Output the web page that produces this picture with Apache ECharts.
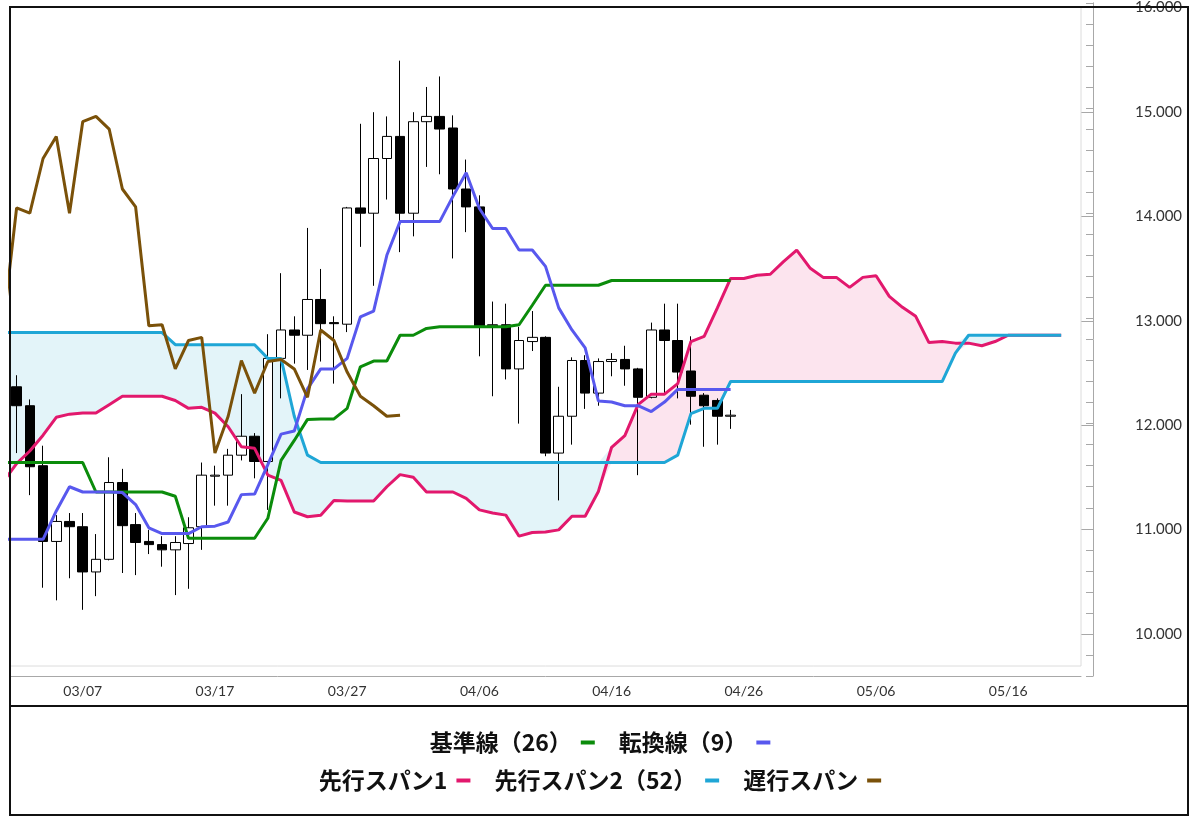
<!DOCTYPE html>
<html>
<head>
<meta charset="utf-8">
<script src="https://cdn.jsdelivr.net/npm/echarts@6/dist/echarts.min.js"></script>
<style>
html,body{margin:0;padding:0;background:#fff;}
#chart{width:1200px;height:829px;}
</style>
</head>
<body>
<div id="chart"></div>
<script>
// ---- categories: daily dates 03/01 .. 05/21 (03/01 lies just left of the visible area)
const monthSpans = [[3, 31], [4, 30], [5, 21]];
const categories = [];
monthSpans.forEach(function (ms) {
  for (let d = 1; d <= ms[1]; d++) {
    categories.push(String(ms[0]).padStart(2, '0') + '/' + String(d).padStart(2, '0'));
  }
});
const tickLabels = ['03/07', '03/17', '03/27', '04/06', '04/16', '04/26', '05/06', '05/16'];

// ---- candles 03/02 .. 04/25
const candleOpen  = [12.35,12.17,11.60,10.88,11.07,11.02,10.59,10.71,11.44,11.04,10.88,10.85,10.80,10.86,11.02,11.50,11.51,11.70,11.88,11.64,12.62,12.89,12.84,13.18,12.96,12.945,14.05,14.00,14.52,14.73,14.00,14.87,14.92,14.81,14.23,14.06,12.93,12.94,12.52,12.78,12.82,11.72,12.07,12.60,12.29,12.59,12.61,12.52,12.25,12.89,12.79,12.50,12.27,12.22,12.07];
const candleClose = [12.17,11.59,10.88,11.07,11.02,10.59,10.71,11.44,11.03,10.87,10.85,10.80,10.87,11.01,11.51,11.51,11.70,11.88,11.64,12.62,12.89,12.84,13.18,12.95,12.95,14.05,14.00,14.52,14.73,14.00,14.87,14.92,14.80,14.23,14.06,12.93,12.94,12.52,12.79,12.82,11.72,12.07,12.60,12.29,12.59,12.61,12.52,12.25,12.89,12.79,12.49,12.26,12.17,12.07,12.08];
const candleLow   = [11.72,11.32,10.44,10.32,10.53,10.23,10.36,10.70,10.58,10.56,10.76,10.64,10.37,10.43,10.80,11.22,11.22,11.65,11.48,11.18,12.24,12.57,12.51,12.59,12.38,12.87,13.68,13.31,14.13,13.63,13.78,14.44,14.37,13.57,13.82,12.64,12.26,12.42,12.00,12.69,11.69,11.27,11.80,12.14,12.17,12.45,12.36,11.51,12.24,12.29,12.24,11.99,11.78,11.80,11.95];
const candleHigh  = [12.46,12.23,11.79,11.13,11.15,11.15,10.95,11.68,11.57,11.15,10.99,10.93,10.93,11.11,11.63,11.60,11.76,12.28,11.91,12.85,13.43,13.02,13.86,13.47,13.02,14.06,14.85,14.96,14.92,15.45,14.96,15.20,15.30,14.93,14.51,14.17,13.16,13.14,12.92,13.07,12.83,12.35,12.63,12.65,12.62,12.67,12.74,12.53,12.96,13.14,13.14,12.83,12.29,12.24,12.13];

// ---- ichimoku lines (start at 03/01)
const kijun = [11.63,11.63,11.63,11.63,11.63,11.63,11.63,11.35,11.35,11.35,11.35,11.35,11.35,11.31,10.91,10.91,10.91,10.91,10.91,10.91,11.10,11.65,11.84,12.04,12.045,12.045,12.145,12.54,12.595,12.595,12.84,12.84,12.905,12.92,12.92,12.92,12.92,12.92,12.92,12.94,13.125,13.315,13.315,13.315,13.315,13.315,13.36,13.36,13.36,13.36,13.36,13.36,13.36,13.36,13.36,13.36];
const tenkan = [10.90,10.90,10.90,10.90,11.17,11.40,11.35,11.35,11.35,11.345,11.23,11.01,10.955,10.955,10.955,11.02,11.025,11.065,11.325,11.33,11.61,11.90,11.93,12.33,12.52,12.52,12.62,13.015,13.07,13.60,13.92,13.92,13.92,13.92,14.16,14.385,14.045,13.855,13.855,13.65,13.65,13.495,13.10,12.89,12.72,12.215,12.205,12.17,12.17,12.115,12.205,12.325,12.325,12.325,12.325,12.325];
const senkou1 = [11.45,11.62,11.74,11.89,12.06,12.09,12.10,12.10,12.18,12.26,12.26,12.26,12.26,12.22,12.145,12.155,12.10,11.97,11.78,11.765,11.51,11.46,11.16,11.115,11.13,11.27,11.265,11.265,11.265,11.40,11.515,11.49,11.35,11.35,11.35,11.29,11.18,11.15,11.13,10.93,10.965,10.97,10.99,11.12,11.12,11.355,11.775,11.885,12.18,12.28,12.28,12.38,12.78,12.83,13.10,13.38,13.38,13.41,13.42,13.54,13.65,13.48,13.39,13.39,13.295,13.39,13.405,13.21,13.105,13.02,12.77,12.78,12.765,12.765,12.74,12.78,12.84,12.84,12.84,12.84,12.84];
const senkou2 = [12.865,12.865,12.865,12.865,12.865,12.865,12.865,12.865,12.865,12.865,12.865,12.865,12.865,12.75,12.75,12.75,12.75,12.75,12.75,12.75,12.62,12.62,12.07,11.70,11.63,11.63,11.63,11.63,11.63,11.63,11.63,11.63,11.63,11.63,11.63,11.63,11.63,11.63,11.63,11.63,11.63,11.63,11.63,11.63,11.63,11.63,11.63,11.63,11.63,11.63,11.63,11.70,12.095,12.145,12.145,12.40,12.40,12.40,12.40,12.40,12.40,12.40,12.40,12.40,12.40,12.40,12.40,12.40,12.40,12.40,12.40,12.40,12.67,12.84,12.84,12.84,12.84,12.84,12.84,12.84,12.84];
const chikou = [12.95,14.05,14.00,14.52,14.73,14.00,14.87,14.92,14.80,14.23,14.06,12.93,12.94,12.52,12.79,12.82,11.72,12.07,12.60,12.29,12.59,12.61,12.52,12.25,12.89,12.79,12.49,12.26,12.17,12.07,12.08];

// ---- derived structures for the library
const candleData = ['-'].concat(candleOpen.map(function (o, i) {
  return [o, candleClose[i], candleLow[i], candleHigh[i]];
}));
const cloudBase = senkou1.map(function (v, i) { return Math.min(v, senkou2[i]); });
const cloudPink = senkou1.map(function (v, i) { return Math.max(v - senkou2[i], 0); });
const cloudBlue = senkou1.map(function (v, i) { return Math.max(senkou2[i] - v, 0); });

const COLORS = {
  kijun: '#0b8c0b', tenkan: '#5858ee', span1: '#e2186d', span2: '#1fa6d6', chikou: '#7a5109',
  pinkFill: '#fce4ee', blueFill: '#e3f4f9'
};
const axisGray = '#a8a8a8';
const labelFont = { color: '#333', fontFamily: 'Lato, "DejaVu Sans", sans-serif' };

function lineSeries(name, data, color, z) {
  return {
    type: 'line', name: name, data: data, xAxisIndex: 0, yAxisIndex: 0,
    symbol: 'none', showSymbol: false, z: z,
    lineStyle: { color: color, width: 3 }, itemStyle: { color: color },
    emphasis: { disabled: true }
  };
}
function cloudSeries(data, fill) {
  const s = {
    type: 'line', data: data, stack: 'cloud', xAxisIndex: 0, yAxisIndex: 0,
    symbol: 'none', showSymbol: false, silent: true, z: 1,
    lineStyle: { width: 0, opacity: 0 }, emphasis: { disabled: true }
  };
  if (fill) s.areaStyle = { color: fill, opacity: 1 };
  return s;
}

const legendText = { fontFamily: '"Noto Sans CJK JP", sans-serif', fontSize: 23, fontWeight: 'bold', color: '#111', padding: [0, 4, 0, 0] };

const option = {
  animation: false,
  backgroundColor: '#fff',
  grid: [
    { left: 10, top: 2.8, width: 1071, height: 673.3, containLabel: false },
    { left: 10, top: 2.8, width: 1071, height: 631.2, containLabel: false }
  ],
  xAxis: [
    { gridIndex: 0, type: 'category', data: categories, min: 1, max: 81, boundaryGap: true, position: 'bottom',
      axisLine: { lineStyle: { color: axisGray, width: 1 } },
      axisTick: { inside: true, length: 6, alignWithLabel: true, interval: function (i) { return i % 2 === 0; }, lineStyle: { color: axisGray } },
      axisLabel: { show: false }, splitLine: { show: false } },
    { gridIndex: 0, type: 'category', data: categories, min: 1, max: 81, boundaryGap: true, position: 'bottom',
      axisLine: { show: false },
      axisTick: { inside: true, length: 11, alignWithLabel: true, interval: function (i, v) { return tickLabels.indexOf(v) >= 0; }, lineStyle: { color: axisGray } },
      axisLabel: Object.assign({ interval: function (i, v) { return tickLabels.indexOf(v) >= 0; }, fontSize: 14, margin: 8 }, labelFont),
      splitLine: { show: false } },
    { gridIndex: 1, type: 'category', data: categories, min: 1, max: 81, show: false }
  ],
  yAxis: [
    { gridIndex: 0, type: 'value', position: 'right', offset: 12, min: 9.6, max: 16, interval: 0.2,
      axisLine: { show: true, lineStyle: { color: axisGray, width: 1 } },
      axisTick: { show: true, inside: true, length: 7, lineStyle: { color: axisGray } },
      axisLabel: { show: false }, splitLine: { show: false } },
    { gridIndex: 1, type: 'value', position: 'right', offset: 12, min: 10, max: 16, interval: 1,
      axisLine: { show: false },
      axisTick: { show: true, inside: true, length: 12, lineStyle: { color: axisGray } },
      axisLabel: Object.assign({ margin: 42, fontSize: 15, formatter: function (v) { return v.toFixed(3); } }, labelFont),
      splitLine: { show: false } }
  ],
  legend: [
    { data: ['基準線（26）', '転換線（9）'], left: 'center', top: 726, align: 'right',
      icon: 'rect', itemWidth: 14, itemHeight: 4, itemGap: 24, textStyle: legendText, selectedMode: false },
    { data: ['先行スパン1', '先行スパン2（52）', '遅行スパン'], left: 'center', top: 764, align: 'right',
      icon: 'rect', itemWidth: 14, itemHeight: 4, itemGap: 24, textStyle: legendText, selectedMode: false }
  ],
  series: [
    cloudSeries(cloudBase, null),
    cloudSeries(cloudPink, COLORS.pinkFill),
    cloudSeries(cloudBlue, COLORS.blueFill),
    { type: 'candlestick', data: candleData, xAxisIndex: 0, yAxisIndex: 0, barWidth: 10, z: 3,
      itemStyle: { color: '#ffffff', color0: '#000000', borderColor: '#000000', borderColor0: '#000000', borderWidth: 1 },
      emphasis: { disabled: true } },
    lineSeries('先行スパン1', senkou1, COLORS.span1, 4),
    lineSeries('先行スパン2（52）', senkou2, COLORS.span2, 5),
    lineSeries('基準線（26）', kijun, COLORS.kijun, 6),
    lineSeries('転換線（9）', tenkan, COLORS.tenkan, 7),
    lineSeries('遅行スパン', chikou, COLORS.chikou, 8)
  ],
  graphic: [
    { type: 'rect', silent: true, z: 90, shape: { x: 10, y: 7, width: 1071, height: 659 }, style: { fill: null, stroke: '#dcdcdc', lineWidth: 1 } },
    { type: 'rect', silent: true, z: 100, shape: { x: 10, y: 7, width: 1178, height: 808 }, style: { fill: null, stroke: '#111', lineWidth: 2 } },
    { type: 'line', silent: true, z: 100, shape: { x1: 10, y1: 706, x2: 1188, y2: 706 }, style: { stroke: '#111', lineWidth: 2 } }
  ]
};

const chart = echarts.init(document.getElementById('chart'), null, { renderer: 'canvas' });
chart.setOption(option);
</script>
</body>
</html>
